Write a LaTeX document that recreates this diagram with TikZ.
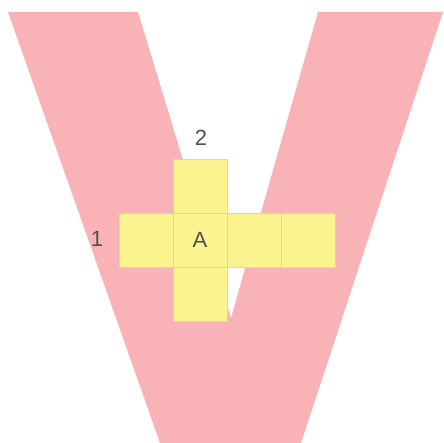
\documentclass[tikz,border=0pt]{standalone}
\usepackage{fontspec}
\setmainfont{Liberation Sans}
\definecolor{vpink}{RGB}{249,178,182}
\definecolor{cellyellow}{RGB}{251,244,142}
\definecolor{celledge}{RGB}{225,218,150}
\definecolor{labelgray}{RGB}{80,80,84}
\tikzset{
  cell/.style={rectangle, draw=celledge, line width=0.6pt, fill=cellyellow,
    minimum width=54pt, minimum height=54pt, inner sep=0pt, outer sep=0pt,
    font=\fontsize{22}{22}\selectfont, text=labelgray},
  lbl/.style={inner sep=0pt, font=\fontsize{22}{22}\selectfont, text=labelgray}
}
\begin{document}
\begin{tikzpicture}[x=1pt,y=1pt]
\useasboundingbox (0,0) rectangle (444,443);
% the V
\fill[vpink] (8,431) -- (138,431) -- (231,125) -- (318,431) -- (443,431)
  -- (301,0) -- (160,0) -- cycle;
% cross of cells
\node[cell] (c1) at (146,203) {};
\node[cell] (cA) at (200,203) {A};
\node[cell] (c3) at (254,203) {};
\node[cell] (c4) at (308,203) {};
\node[cell] (ctop) at (200,257) {};
\node[cell] (cbot) at (200,149) {};
% labels
\node[lbl] (l2) at (201,305) {2};
\node[lbl] (l1) at (97,204) {1};
\end{tikzpicture}
\end{document}
